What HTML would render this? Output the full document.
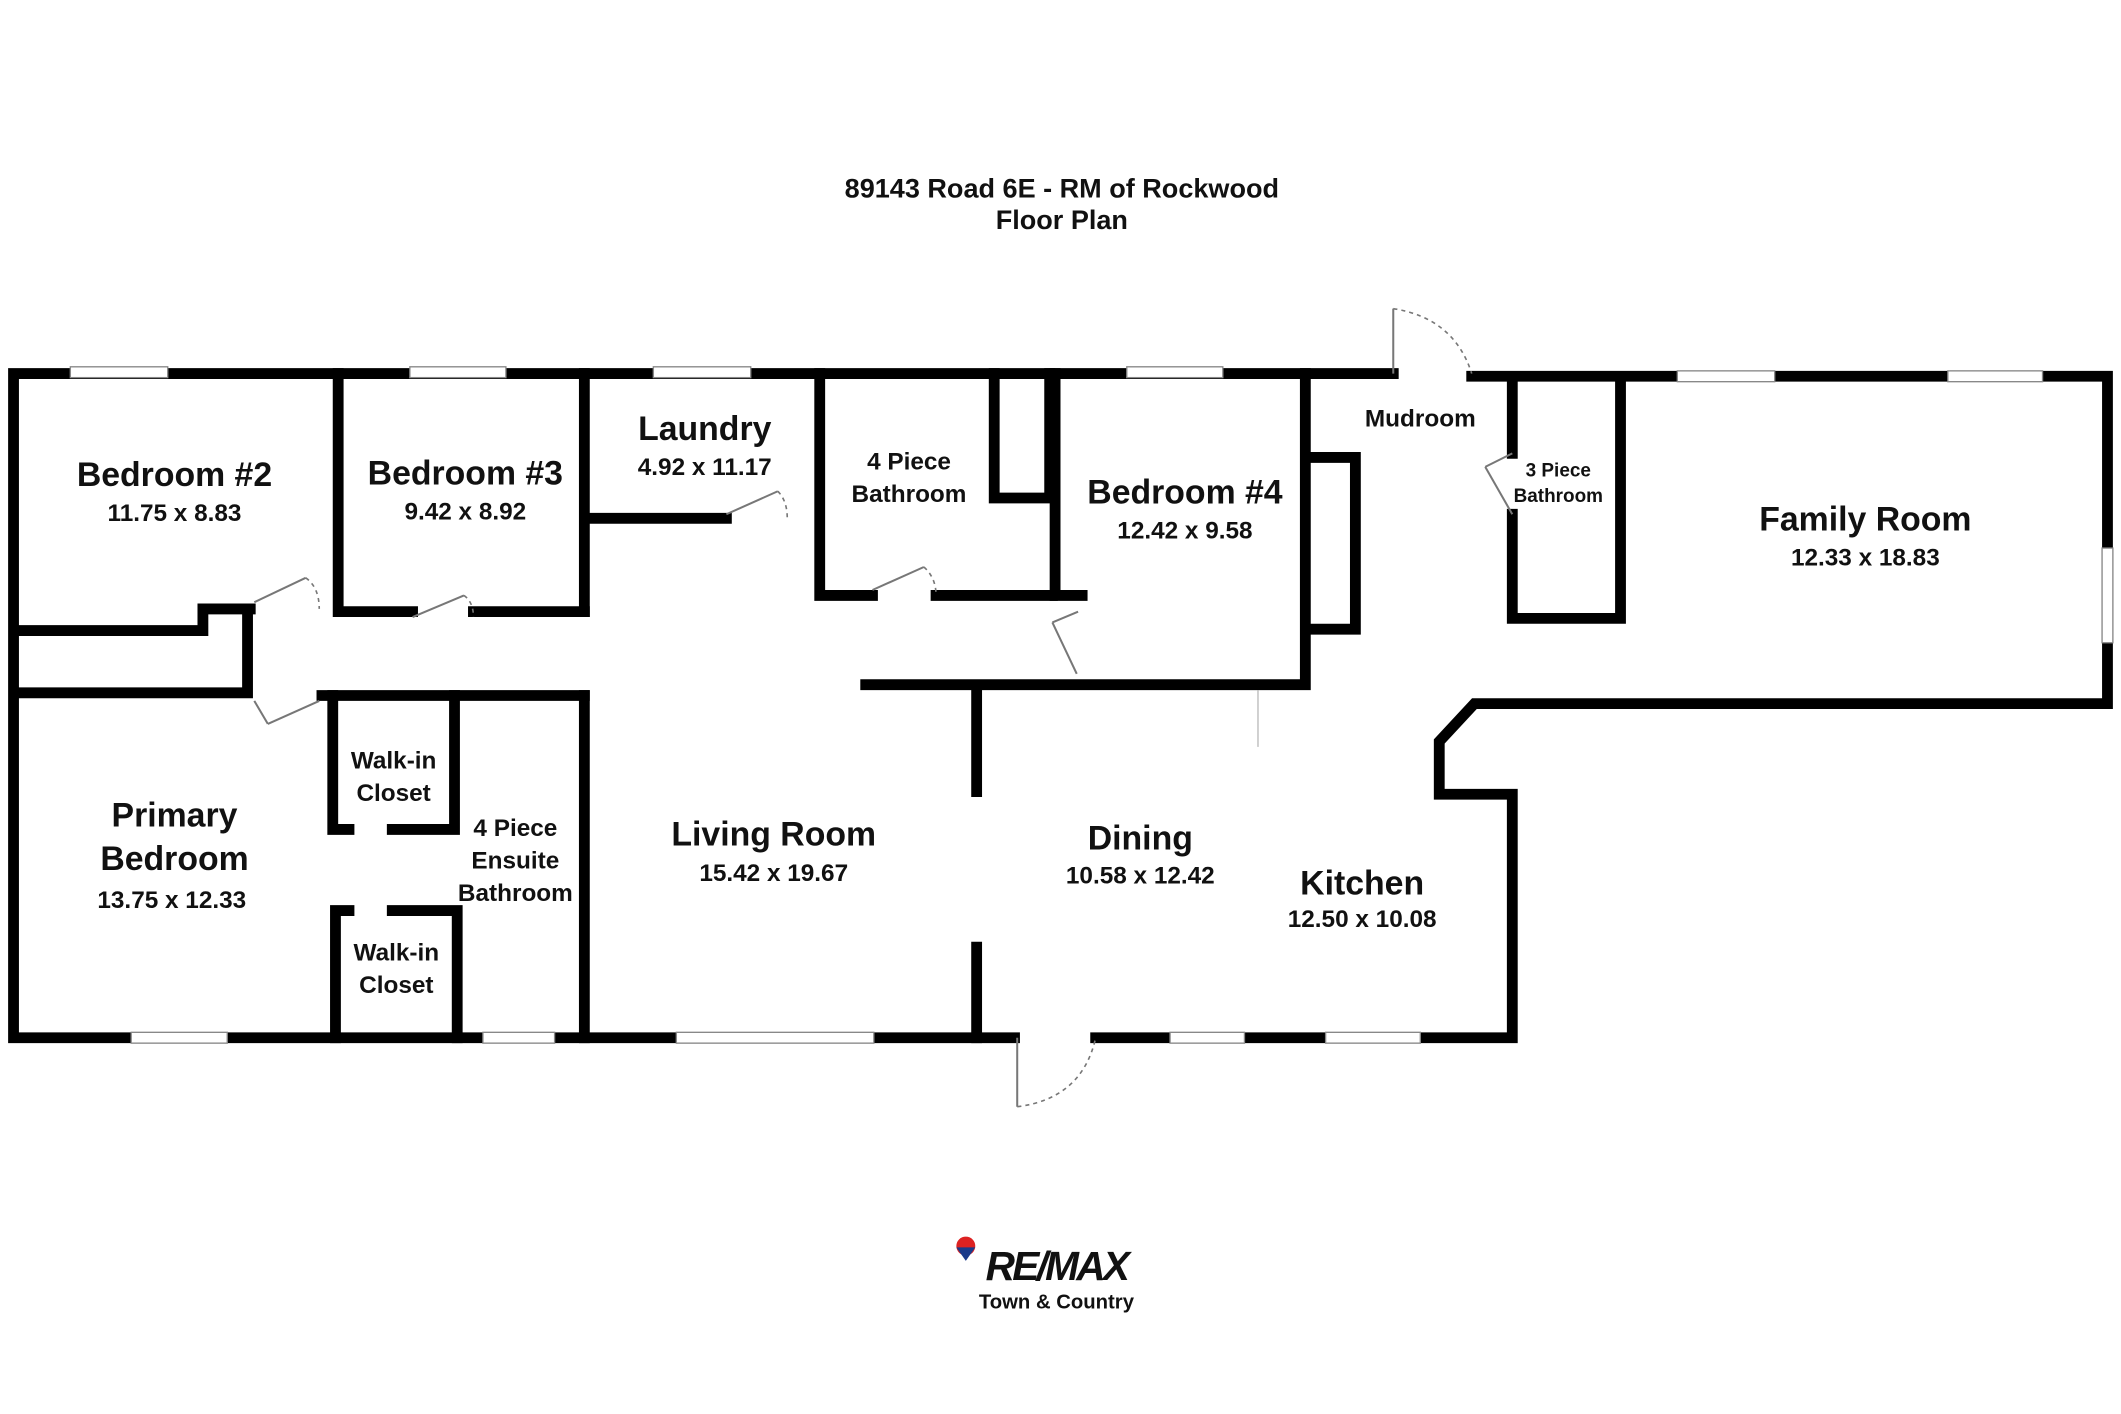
<!DOCTYPE html>
<html><head><meta charset="utf-8"><style>
html,body{margin:0;padding:0;background:#fff}
svg{display:block}
text{font-family:"Liberation Sans",Arial,sans-serif;font-weight:bold;fill:#111;text-anchor:middle}
.w{stroke:#000;stroke-width:8;fill:none;stroke-linecap:square}
.win{fill:#fff;stroke:#888;stroke-width:1}
.d{stroke:#777;stroke-width:1.5;fill:none}
.a{stroke:#777;stroke-width:1.2;fill:none;stroke-dasharray:3 3}
</style></head><body>
<svg width="2121" height="1414" viewBox="0 0 1568 1045" xmlns="http://www.w3.org/2000/svg">
<text x="785" y="146" font-size="20">89143 Road 6E - RM of Rockwood</text>
<text x="785" y="169" font-size="20">Floor Plan</text>

<polyline class="w" points="1030,276 10,276 10,767 750,767"/>
<polyline class="w" points="810,767 1118,767 1118,587 1064,587 1064,548 1090,520 1558,520 1558,278 1088,278"/>
<polyline class="w" points="250,276 250,452 305,452"/>
<line class="w" x1="350" y1="452" x2="432" y2="452"/>
<line class="w" x1="432" y1="276" x2="432" y2="452"/>
<polyline class="w" points="12,466 150,466 150,450 185,450"/>
<polyline class="w" points="12,512 183,512 183,452"/>
<line class="w" x1="238" y1="514" x2="432" y2="514"/>
<line class="w" x1="432" y1="514" x2="432" y2="767"/>
<polyline class="w" points="246,514 246,613 258,613"/>
<polyline class="w" points="290,613 336,613 336,514"/>
<polyline class="w" points="248,767 248,673 258,673"/>
<polyline class="w" points="290,673 338,673 338,767"/>
<polyline class="w" points="434,383 537,383"/>
<polyline class="w" points="606,276 606,440 645,440"/>
<line class="w" x1="692" y1="440" x2="778" y2="440"/>
<polyline class="w" points="735,276 735,368 776,368 776,276"/>
<polyline class="w" points="780,276 780,440 800,440"/>
<polyline class="w" points="640,506 965,506 965,276"/>
<polyline class="w" points="970,338 1002,338 1002,465 970,465"/>
<line class="w" x1="722" y1="510" x2="722" y2="585"/>
<line class="w" x1="722" y1="700" x2="722" y2="767"/>
<line class="w" x1="1118" y1="282" x2="1118" y2="335"/>
<polyline class="w" points="1118,380 1118,457 1198,457 1198,282"/>
<line x1="930" y1="510" x2="930" y2="552" stroke="#bbb" stroke-width="1"/>

<rect class="win" x="52" y="271" width="72" height="8"/>
<rect class="win" x="303" y="271" width="71" height="8"/>
<rect class="win" x="483" y="271" width="72" height="8"/>
<rect class="win" x="833" y="271" width="71" height="8"/>
<rect class="win" x="1240" y="274" width="72" height="8"/>
<rect class="win" x="1440" y="274" width="70" height="8"/>
<rect class="win" x="97" y="763" width="71" height="8"/>
<rect class="win" x="357" y="763" width="53" height="8"/>
<rect class="win" x="500" y="763" width="146" height="8"/>
<rect class="win" x="865" y="763" width="55" height="8"/>
<rect class="win" x="980" y="763" width="70" height="8"/>
<rect class="win" x="1554" y="405" width="8" height="70"/>

<line class="d" x1="188" y1="445" x2="226" y2="427"/><path class="a" d="M226,427 Q236,434 236,450"/>
<line class="d" x1="305" y1="456" x2="343" y2="440"/><path class="a" d="M343,440 Q350,445 350,456"/>
<line class="d" x1="537" y1="380" x2="575" y2="363"/><path class="a" d="M575,363 Q582,370 582,383"/>
<line class="d" x1="645" y1="436" x2="683" y2="419"/><path class="a" d="M683,419 Q692,427 692,440"/>
<line class="d" x1="188" y1="518" x2="198" y2="535"/><line class="d" x1="198" y1="535" x2="236" y2="518"/>
<line class="d" x1="797" y1="452" x2="778" y2="460"/><line class="d" x1="778" y1="460" x2="796" y2="498"/>
<line class="d" x1="1030" y1="228" x2="1030" y2="276"/><path class="a" d="M1030,228 Q1075,235 1088,276"/>
<line class="d" x1="752" y1="767" x2="752" y2="818"/><path class="a" d="M752,818 Q800,812 810,767"/>
<line class="d" x1="1118" y1="335" x2="1098" y2="345"/><line class="d" x1="1098" y1="345" x2="1118" y2="380"/>

<text x="129" y="359" font-size="25">Bedroom #2</text>
<text x="129" y="385" font-size="18">11.75 x 8.83</text>
<text x="344" y="358" font-size="25">Bedroom #3</text>
<text x="344" y="384" font-size="18">9.42 x 8.92</text>
<text x="521" y="325" font-size="25">Laundry</text>
<text x="521" y="351" font-size="18">4.92 x 11.17</text>
<text x="672" y="347" font-size="18">4 Piece</text>
<text x="672" y="371" font-size="18">Bathroom</text>
<text x="876" y="372" font-size="25">Bedroom #4</text>
<text x="876" y="398" font-size="18">12.42 x 9.58</text>
<text x="1050" y="315" font-size="18">Mudroom</text>
<text x="1152" y="352" font-size="14">3 Piece</text>
<text x="1152" y="371" font-size="14">Bathroom</text>
<text x="1379" y="392" font-size="25">Family Room</text>
<text x="1379" y="418" font-size="18">12.33 x 18.83</text>
<text x="129" y="611" font-size="25">Primary</text>
<text x="129" y="643" font-size="25">Bedroom</text>
<text x="127" y="671" font-size="18">13.75 x 12.33</text>
<text x="291" y="568" font-size="18">Walk-in</text>
<text x="291" y="592" font-size="18">Closet</text>
<text x="293" y="710" font-size="18">Walk-in</text>
<text x="293" y="734" font-size="18">Closet</text>
<text x="381" y="618" font-size="18">4 Piece</text>
<text x="381" y="642" font-size="18">Ensuite</text>
<text x="381" y="666" font-size="18">Bathroom</text>
<text x="572" y="625" font-size="25">Living Room</text>
<text x="572" y="651" font-size="18">15.42 x 19.67</text>
<text x="843" y="628" font-size="25">Dining</text>
<text x="843" y="653" font-size="18">10.58 x 12.42</text>
<text x="1007" y="661" font-size="25">Kitchen</text>
<text x="1007" y="685" font-size="18">12.50 x 10.08</text>

<circle cx="714" cy="921" r="7" fill="#d22"/>
<path d="M707,922 L721,922 L714,932 Z" fill="#1a3a8a"/>
<text x="781" y="946" font-size="30" style="font-style:italic;letter-spacing:-2px">RE/MAX</text>
<text x="781" y="967" font-size="15">Town &amp; Country</text>
</svg>
</body></html>
